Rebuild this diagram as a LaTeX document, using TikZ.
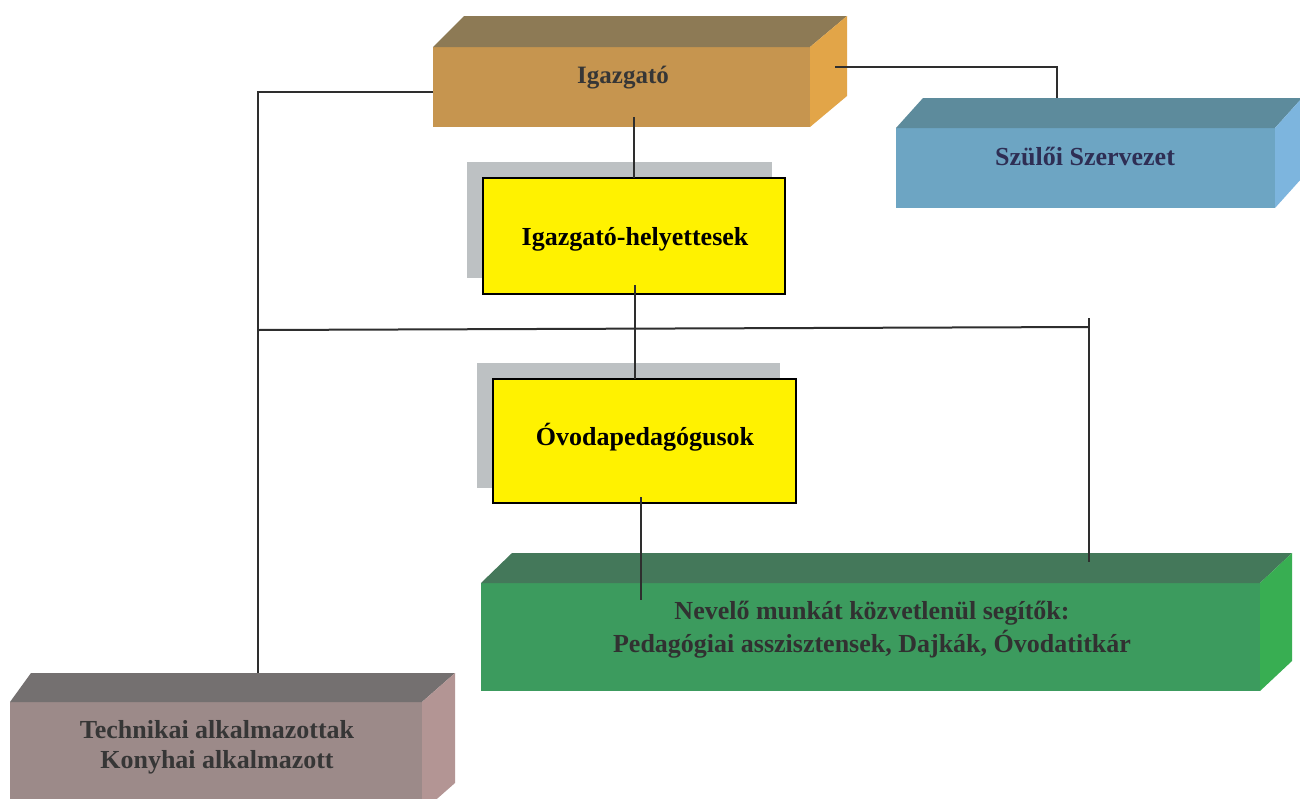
\documentclass[tikz,border=0pt]{standalone}
\usepackage{fontspec}
\setmainfont{Liberation Serif}
\usetikzlibrary{calc}
\definecolor{igF}{HTML}{C6954F}
\definecolor{igT}{HTML}{8D7A55}
\definecolor{igS}{HTML}{E2A548}
\definecolor{szF}{HTML}{6DA5C3}
\definecolor{szT}{HTML}{5D8B9C}
\definecolor{szS}{HTML}{7DB5DE}
\definecolor{grF}{HTML}{3C9B5E}
\definecolor{grT}{HTML}{44785A}
\definecolor{grS}{HTML}{38AE52}
\definecolor{teF}{HTML}{9C8A89}
\definecolor{teT}{HTML}{747070}
\definecolor{teS}{HTML}{B39594}
\definecolor{shad}{HTML}{BDC1C3}
\definecolor{linec}{HTML}{2E2E2E}
\definecolor{txtc}{HTML}{363636}
\newcommand{\boxsides}[6]{%
  \fill[#5] (#1.north west) -- ++(#2,#4) -- ([shift={(#3,#4)}]#1.north east) -- (#1.north east) -- cycle;
  \fill[#6] (#1.north east) -- ([shift={(#3,#4)}]#1.north east) -- ([shift={(#3,#4)}]#1.south east) -- (#1.south east) -- cycle;}
\tikzset{
  face/.style={rectangle, inner sep=0pt, outer sep=0pt, draw=none},
  shadowbox/.style={rectangle, inner sep=0pt, outer sep=0pt, fill=shad},
  ybox/.style={rectangle, inner sep=0pt, outer sep=0pt, fill=yellow, draw=black, line width=2.2pt},
  conn/.style={draw=linec, line width=2pt},
  btxt/.style={font=\bfseries\fontsize{26}{30}\selectfont, text=txtc, anchor=base, inner sep=0pt},
  ytxt/.style={font=\bfseries\fontsize{26}{30}\selectfont, text=black, anchor=base, inner sep=0pt},
}
\begin{document}
\begin{tikzpicture}[x=1pt,y=-1pt]
\useasboundingbox (0,0) rectangle (1300,798);
\clip (0,0) rectangle (1300,798);
\fill[white] (0,0) rectangle (1300,798);
% Igazgato
\node[face, fill=igF, minimum width=377, minimum height=80] (ig) at (621.5,87) {};
\boxsides{ig}{31}{37}{-31}{igT}{igS}
\node[btxt, font=\bfseries\fontsize{25}{30}\selectfont] (igt) at (623,83) {Igazgató};
% Szuloi szervezet
\node[face, fill=szF, minimum width=379, minimum height=80] (sz) at (1085.5,168) {};
\boxsides{sz}{27}{27}{-30}{szT}{szS}
\node[btxt, text=txtc!85!blue] (szt) at (1085,165) {Szülői Szervezet};
% Igazgato-helyettesek
\node[shadowbox, minimum width=305, minimum height=116] (y1s) at (619.5,220) {};
\node[ybox, minimum width=302, minimum height=116] (y1) at (634,236) {};
\node[ytxt] (y1t) at (635,245) {Igazgató-helyettesek};
% Ovodapedagogusok
\node[shadowbox, minimum width=303, minimum height=125] (y2s) at (628.5,425.5) {};
\node[ybox, minimum width=303, minimum height=124] (y2) at (644.5,441) {};
\node[ytxt] (y2t) at (645,445) {Óvodapedagógusok};
% Green
\node[face, fill=grF, minimum width=779, minimum height=108] (gr) at (870.5,637) {};
\boxsides{gr}{31}{32}{-30}{grT}{grS}
\node[btxt, text=txtc!90!black] (grt1) at (872,619) {Nevelő munkát közvetlenül segítők:};
\node[btxt, text=txtc!90!black] (grt2) at (872,652) {Pedagógiai asszisztensek, Dajkák, Óvodatitkár};
% Technikai
\node[face, fill=teF, minimum width=412, minimum height=110] (te) at (216,757) {};
\boxsides{te}{21}{33}{-29}{teT}{teS}
\node[btxt] (tet1) at (217,738) {Technikai alkalmazottak};
\node[btxt] (tet2) at (217,768) {Konyhai alkalmazott};
% connectors
\draw[conn] ($(ig.south -| y1.north)+(0,-10)$) -- (y1.north);
\draw[conn] ($(y1.south)+(1,-9)$) -- ($(y1.south |- y2.north)+(1,0)$);
\draw[conn] ($(y2.south)+(-4,-6)$) -- ($(y2.south |- gr.north)+(-4,17)$);
\coordinate (sz1) at (1057,67);
\draw[conn] ($(ig.east)+(25,-20)$) -- (sz1) -- ($(sz.north -| sz1)+(0,-30)$);
\coordinate (lc) at (258,92);
\draw[conn] ($(ig.west)+(0,5)$) -- (lc) -- ($(te.north -| lc)+(0,-29)$);
\coordinate (hl) at (258,330);
\coordinate (hr) at (1089,327);
\draw[conn] (hl) -- (hr);
\draw[conn] ($(hr)+(0,-9)$) -- ($(gr.north -| hr)+(0,-21)$);
\end{tikzpicture}
\end{document}
